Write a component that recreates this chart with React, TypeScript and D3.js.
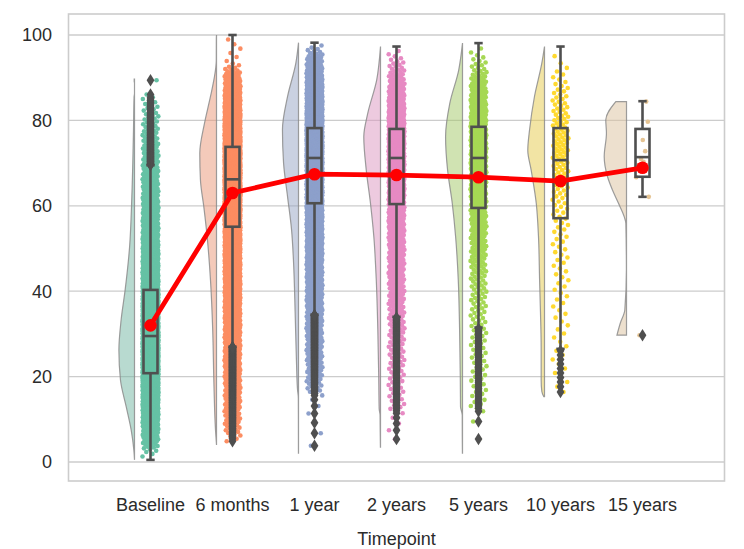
import React from "react";
import * as d3 from "d3";

const categories = ["Baseline", "6 months", "1 year", "2 years", "5 years", "10 years", "15 years"];
const palette = ["#66c2a5", "#fc8d62", "#8da0cb", "#e78ac3", "#a6d854", "#ffd92f", "#e5c494"];

// box statistics
const boxQ1 = [20.8, 55.1, 60.6, 60.4, 59.5, 57.1, 66.8];
const boxMedian = [29.5, 66.2, 71.2, 71.2, 71.2, 70.7, 71.4];
const boxQ3 = [40.3, 73.8, 78.2, 78.0, 78.5, 78.2, 78.0];
const whiskerLow = [0.5, 27.0, 34.5, 34.0, 31.5, 26.5, 62.1];
const whiskerHigh = [69.5, 100, 98.2, 97.3, 98.1, 97.3, 84.5];
const means = [32.0, 63.0, 67.4, 67.2, 66.7, 65.8, 68.9];

// number of observations shown in each strip (estimated)
const stripCounts = [2800, 3200, 2400, 1100, 650, 170, 0];
// the few individual 15-year observations
const points15 = [84.4, 79.7, 75.4, 72.8, 71.0, 70.3, 69.5, 66.7, 62.1, 29.7];

// half-violin density profiles [value, relative density]
const densityBaseline = [[0.5, 0], [2.8, 0.03], [7.5, 0.15], [12.9, 0.37], [19.2, 0.63], [26.2, 0.7], [33.3, 0.6], [40.3, 0.42], [50.4, 0.22], [62.1, 0.12], [77.8, 0.045], [85.5, 0.02], [86.3, 0.0005], [88.8, 0.0005], [89.1, 0.014], [89.7, 0.014]];
const density6m = [[4, 0], [7.5, 0.045], [19.2, 0.12], [30.9, 0.17], [42.6, 0.27], [52.8, 0.42], [59.8, 0.57], [66, 0.72], [72.3, 0.75], [79.3, 0.54], [85.6, 0.27], [90, 0.1], [92.5, 0.03], [94, 0.01], [99, 0.008], [100, 0]];
const density1y = [[2.1, 0.003], [10, 0.005], [15, 0.008], [17, 0.045], [23.2, 0.09], [34.9, 0.15], [46.5, 0.22], [54.3, 0.31], [62.1, 0.49], [70, 0.67], [77.8, 0.72], [85.6, 0.49], [93.4, 0.12], [98.2, 0]];
const density2y = [[3.5, 0.004], [8, 0.015], [11, 0.02], [12.5, 0.06], [20, 0.08], [30.9, 0.12], [42.6, 0.19], [52.8, 0.3], [60.6, 0.45], [68.4, 0.64], [76.2, 0.75], [81.7, 0.57], [89.5, 0.17], [97.3, 0]];
const density5y = [[2.1, 0.004], [6, 0.01], [11, 0.012], [13, 0.09], [20, 0.1], [30.9, 0.13], [42.6, 0.19], [52.8, 0.31], [60.6, 0.46], [68.4, 0.67], [76.2, 0.76], [84, 0.57], [91.8, 0.17], [98.1, 0]];
const density10y = [[15.3, 0.03], [16.5, 0.12], [19.2, 0.15], [24, 0.15], [27, 0.15], [34.9, 0.18], [42.6, 0.22], [52.8, 0.27], [60.6, 0.37], [68.4, 0.6], [73, 0.75], [77.8, 0.67], [85.6, 0.45], [93.4, 0.12], [97.3, 0]];
const density15y = [[29.7, 0.43], [32.5, 0.28], [35.6, 0.076], [45, 0.005], [55.9, 0.03], [57.4, 0.1], [60.6, 0.36], [63.7, 0.63], [66.8, 0.85], [71.5, 1.0], [77, 0.9], [80.1, 0.93], [84.4, 0.48]];
const densities = [densityBaseline, density6m, density1y, density2y, density5y, density10y, density15y];

const yTicks = [0, 20, 40, 60, 80, 100];
const xTitle = "Timepoint";

function densityAt(profile: number[][], v: number): number {
  for (let k = 0; k < profile.length - 1; k++) {
    const [a, da] = profile[k];
    const [b, db] = profile[k + 1];
    if (v >= a && v <= b) return da + ((db - da) * (v - a)) / (b - a || 1);
  }
  return 0;
}

// quantiles of the read density profile
function quantileSample(profile: number[][], n: number): number[] {
  const lo = profile[0][0];
  const hi = profile[profile.length - 1][0];
  const step = 0.05;
  const grid: number[] = [];
  const cdf: number[] = [];
  let acc = 0;
  for (let v = lo; v <= hi + 1e-9; v += step) {
    acc += densityAt(profile, v);
    grid.push(v);
    cdf.push(acc);
  }
  const out: number[] = [];
  for (let i = 0; i < n; i++) {
    const p = ((i + 0.5) / n) * acc;
    const idx = Math.min(grid.length - 1, d3.bisectLeft(cdf, p));
    out.push(grid[idx]);
  }
  return out;
}

function desaturate(c: string, s: number): string {
  const h = d3.hsl(c);
  h.s *= s;
  return h.formatHex();
}

export default function App() {
  const W = 744;
  const H = 549;
  const left = 68.5;
  const right = 724.5;
  const top = 14;
  const bottom = 481;

  const x = d3.scaleLinear().domain([-1, 7]).range([left, right]);
  const y = d3.scaleLinear().domain([0, 100]).range([462, 35]);
  const unit = x(1) - x(0);
  const wScale = d3.scaleLinear().domain([0, 1]).range([0, 22.3]);

  const violinOffset = 0.195 * unit;
  const boxHalf = 7;
  const capHalf = 4.2;
  const jitter = 8;
  const boxStroke = "#4f4f4f";
  const font = "'Liberation Sans', Arial, Helvetica, sans-serif";
  const textColor = "#2b2b2b";

  const samples = categories.map((_, i) =>
    i === 6 ? points15 : quantileSample(densities[i], stripCounts[i])
  );

  const area = d3
    .area<number[]>()
    .y((d) => y(d[0]))
    .x0(0)
    .x1((d) => -wScale(d[1]))
    .curve(d3.curveMonotoneY);

  const diamond = "M0,-6.2 L3.9,0 L0,6.2 L-3.9,0 Z";

  const meanLine = d3
    .line<number>()
    .x((_, i) => x(i))
    .y((d) => y(d));

  const jitterFor = (i: number, k: number) => {
    if (k === 6) {
      const preset = [3.7, 5.3, 0.3, 2.7, -1.5, 1.0, -4.0, -6.3, 6.3, -3.0];
      return preset[i % preset.length];
    }
    const f = (i * 0.6180339887 + k * 0.137) % 1;
    return (f - 0.5) * 2 * jitter;
  };

  return (
    <svg
      width={W}
      height={H}
      style={{ position: "absolute", left: 0, top: 0, background: "#fff" }}
      fontFamily={font}
    >
      <rect x={0} y={0} width={W} height={H} fill="#fff" />
      {/* grid */}
      {yTicks.map((t) => (
        <line key={"g" + t} x1={left} x2={right} y1={y(t)} y2={y(t)} stroke="#cccccc" strokeWidth={1.3} />
      ))}
      {/* violins */}
      {categories.map((c, i) => (
        <path
          key={"v" + c}
          transform={`translate(${x(i) - violinOffset},0)`}
          d={area(densities[i] as number[][]) || ""}
          fill={desaturate(palette[i], 0.75)}
          fillOpacity={0.5}
          stroke="#8c8c8c"
          strokeOpacity={0.85}
          strokeWidth={1.2}
        />
      ))}
      {/* box background */}
      {categories.map((c, i) => (
        <rect
          key={"bb" + c}
          x={x(i) - boxHalf}
          width={boxHalf * 2}
          y={y(boxQ3[i])}
          height={y(boxQ1[i]) - y(boxQ3[i])}
          fill="#fff"
        />
      ))}
      {/* strip points */}
      {samples.map((vals, k) => (
        <g key={"s" + k} fill={palette[k]}>
          {vals.map((v, i) => (
            <circle key={i} cx={x(k) + jitterFor(i, k)} cy={y(v)} r={2.3} />
          ))}
        </g>
      ))}
      {/* whiskers, boxes, medians */}
      {categories.map((c, i) => (
        <g key={"b" + c} stroke={boxStroke} strokeWidth={2.6} fill="none">
          <line x1={x(i)} x2={x(i)} y1={y(boxQ3[i])} y2={y(whiskerHigh[i])} />
          <line x1={x(i)} x2={x(i)} y1={y(boxQ1[i])} y2={y(whiskerLow[i])} />
          <line x1={x(i) - capHalf} x2={x(i) + capHalf} y1={y(whiskerHigh[i])} y2={y(whiskerHigh[i])} />
          <line x1={x(i) - capHalf} x2={x(i) + capHalf} y1={y(whiskerLow[i])} y2={y(whiskerLow[i])} />
          <rect
            x={x(i) - boxHalf}
            width={boxHalf * 2}
            y={y(boxQ3[i])}
            height={y(boxQ1[i]) - y(boxQ3[i])}
          />
          <line x1={x(i) - boxHalf} x2={x(i) + boxHalf} y1={y(boxMedian[i])} y2={y(boxMedian[i])} />
        </g>
      ))}
      {/* fliers */}
      {samples.map((vals, k) => (
        <g key={"f" + k} fill={boxStroke}>
          {vals
            .filter((v) => v > whiskerHigh[k] + 0.01 || v < whiskerLow[k] - 0.01)
            .map((v, i) => (
              <path key={i} d={diamond} transform={`translate(${x(k)},${y(v)})`} />
            ))}
        </g>
      ))}
      {/* mean line */}
      <path d={meanLine(means) || ""} fill="none" stroke="#ff0000" strokeWidth={4.8} />
      {means.map((m, i) => (
        <circle key={"m" + i} cx={x(i)} cy={y(m)} r={6.3} fill="#ff0000" />
      ))}
      {/* frame */}
      <rect x={left} y={top} width={right - left} height={bottom - top} fill="none" stroke="#cccccc" strokeWidth={1.6} />
      {/* y tick labels */}
      {yTicks.map((t) => (
        <text key={"yt" + t} x={52} y={y(t) + 6.4} textAnchor="end" fontSize={18} fill={textColor}>
          {t}
        </text>
      ))}
      {/* x tick labels */}
      {categories.map((c, i) => (
        <text key={"xt" + c} x={x(i)} y={511} textAnchor="middle" fontSize={18} fill={textColor}>
          {c}
        </text>
      ))}
      <text x={(left + right) / 2} y={545} textAnchor="middle" fontSize={18} fill={textColor}>
        {xTitle}
      </text>
    </svg>
  );
}
